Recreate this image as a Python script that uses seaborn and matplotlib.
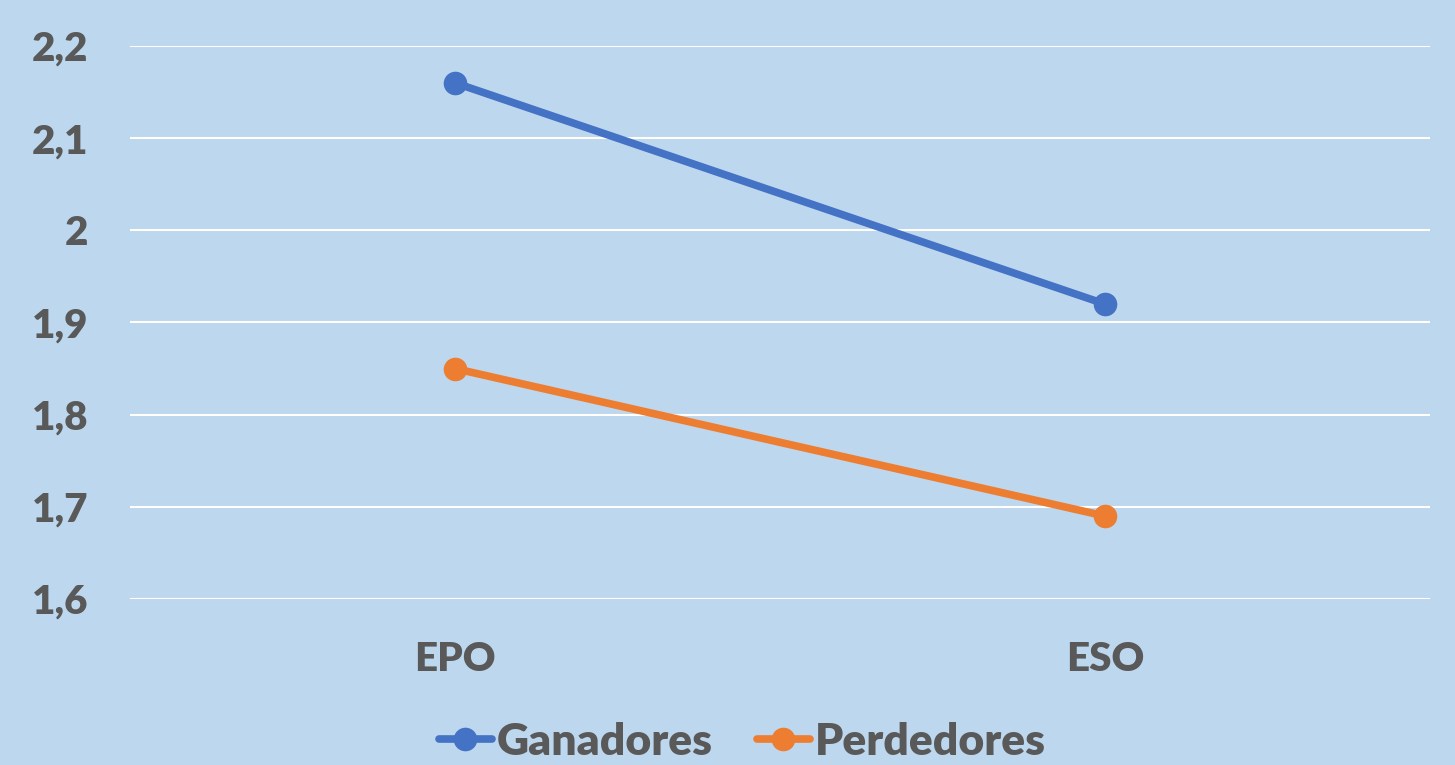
import pandas as pd
import matplotlib.pyplot as plt
import seaborn as sns
from matplotlib.ticker import FuncFormatter

etapas = ['EPO', 'ESO']
ganadores = [2.16, 1.92]
perdedores = [1.85, 1.69]
series = ['Ganadores', 'Perdedores']
colores = ['#4472C4', '#ED7D31']

df = pd.DataFrame({
    'etapa': etapas * 2,
    'valor': ganadores + perdedores,
    'grupo': [series[0]] * len(etapas) + [series[1]] * len(etapas),
})

sns.set_style('white')
plt.rcParams['font.family'] = ['Lato', 'DejaVu Sans']

fondo = '#BDD7EE'
gris = '#595959'

fig = plt.figure(figsize=(14.55, 7.65), dpi=100, facecolor=fondo)
ax = fig.add_axes([0.0893, 0.217, 0.8935, 0.7229])
ax.set_facecolor(fondo)

sns.lineplot(data=df, x='etapa', y='valor', hue='grupo', palette=colores,
             marker='o', markersize=17, markeredgewidth=0, linewidth=5.5,
             sort=False, ax=ax)

ax.set_xlim(-0.5, 1.5)
ax.set_ylim(1.6, 2.2)
ax.set_yticks([1.6, 1.7, 1.8, 1.9, 2.0, 2.1, 2.2])
ax.yaxis.set_major_formatter(FuncFormatter(lambda v, p: f'{v:g}'.replace('.', ',')))
ax.grid(axis='y', color='white', linewidth=1.5)
ax.set_axisbelow(True)
for s in ax.spines.values():
    s.set_visible(False)
ax.tick_params(axis='both', length=0, labelsize=29, labelcolor=gris)
ax.tick_params(axis='x', pad=30)
ax.tick_params(axis='y', pad=30)
for t in ax.get_xticklabels() + ax.get_yticklabels():
    t.set_fontweight('heavy')
ax.set_xlabel('')
ax.set_ylabel('')

h, l = ax.get_legend_handles_labels()
ax.legend_.remove()
fig.legend(h, l, loc='center', bbox_to_anchor=(0.51, 0.03), ncol=2, frameon=False,
           prop={'size': 32, 'weight': 'heavy'}, labelcolor=gris,
           handlelength=1.2, handletextpad=0.1, columnspacing=1.0)

fig.savefig('out.png', dpi=100, facecolor=fondo)
